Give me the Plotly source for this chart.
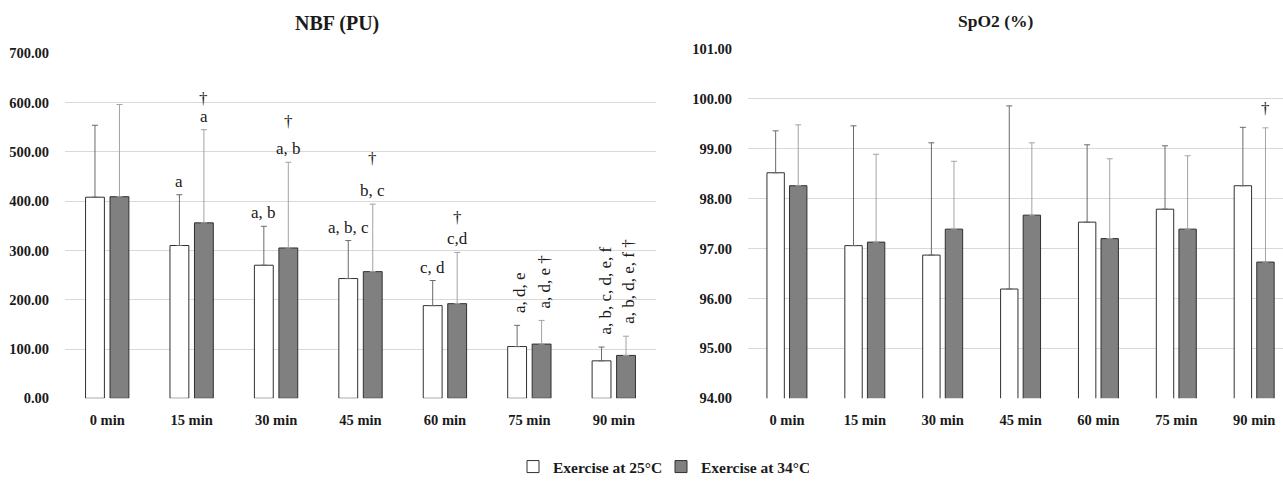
import plotly.graph_objects as go

categories = ["0 min", "15 min", "30 min", "45 min", "60 min", "75 min", "90 min"]

nbf_25 = [408, 310, 270, 243, 188, 105, 76]
nbf_25_sd = [146, 103, 79, 77, 51, 43, 28]
nbf_34 = [409, 356, 305, 257, 192, 110, 87]
nbf_34_sd = [187, 189, 174, 137, 104, 48, 39]

spo2_25 = [98.52, 97.06, 96.87, 96.19, 97.53, 97.79, 98.26]
spo2_25_sd = [0.84, 2.40, 2.25, 3.67, 1.55, 1.27, 1.17]
spo2_34 = [98.26, 97.13, 97.39, 97.67, 97.20, 97.39, 96.73]
spo2_34_sd = [1.22, 1.76, 1.36, 1.45, 1.60, 1.47, 2.69]

nbf_25_labels = ["", "a", "a, b", "a, b, c", "c, d", "a, d, e", "a, b, c, d, e, f"]
nbf_34_labels = ["", "a", "a, b", "b, c", "c,d", "a, d, e †", "a, b, d, e, f †"]
nbf_34_dagger = [False, True, True, True, True, False, False]
label_rotated = [False, False, False, False, False, True, True]
spo2_34_labels = ["", "", "", "", "", "", "†"]

# style
W, H = 1283, 482
FONT = "Liberation Serif"
GREY = "#808080"
EDGE = "#303030"
GRID = "#d9d9d9"
BARGAP = 0.42
OFF = (1 - BARGAP) / 4  # bar centre offset in category units
dagger_gap = [0, 19, 28, 33, 22, 0, 0]  # px above error-bar tops


def px_y(p):
    return (H - p) / H


def px_x(p):
    return p / W


fig = go.Figure()

common_bar = dict(marker_line_color=EDGE, marker_line_width=1)


def err(sd, color):
    return dict(type="data", symmetric=False, array=sd, arrayminus=[0] * len(sd),
                color=color, thickness=1, width=3)


fig.add_trace(go.Bar(
    x=categories, y=nbf_25, name="Exercise at 25°C", xaxis="x", yaxis="y",
    marker_color="white", **common_bar, error_y=err(nbf_25_sd, "#6a6a6a"),
    legendgroup="25"))
fig.add_trace(go.Bar(
    x=categories, y=nbf_34, name="Exercise at 34°C", xaxis="x", yaxis="y",
    marker_color=GREY, **common_bar, error_y=err(nbf_34_sd, "#a3a3a3"),
    legendgroup="34"))
fig.add_trace(go.Bar(
    x=categories, y=spo2_25, name="Exercise at 25°C", xaxis="x2", yaxis="y2",
    marker_color="white", **common_bar, showlegend=False,
    error_y=err(spo2_25_sd, "#6a6a6a"), legendgroup="25"))
fig.add_trace(go.Bar(
    x=categories, y=spo2_34, name="Exercise at 34°C", xaxis="x2", yaxis="y2",
    marker_color=GREY, **common_bar, showlegend=False,
    error_y=err(spo2_34_sd, "#a3a3a3"), legendgroup="34"))

annotations = []
lab_font = dict(family=FONT, size=17, color="#1a1a1a")


def add_label(xref, yref, i, side, top, text, rotated):
    if not text:
        return
    annotations.append(dict(
        xref=xref, yref=yref, x=i + side * OFF, y=top, text=text,
        showarrow=False, font=lab_font, borderpad=0,
        textangle=-90 if rotated else 0,
        xanchor="center", yanchor="bottom",
        xshift=3 if rotated else 0,
        yshift=11 if rotated else 3))


for i in range(7):
    t25 = nbf_25[i] + nbf_25_sd[i]
    t34 = nbf_34[i] + nbf_34_sd[i]
    add_label("x", "y", i, -1, t25, nbf_25_labels[i], label_rotated[i])
    add_label("x", "y", i, 1, t34, nbf_34_labels[i], label_rotated[i])
    if nbf_34_dagger[i]:
        annotations.append(dict(
            xref="x", yref="y", x=i + OFF, y=t34, text="†", showarrow=False,
            font=lab_font, borderpad=0, xanchor="center", yanchor="bottom",
            yshift=2 + dagger_gap[i]))
    s34 = spo2_34[i] + spo2_34_sd[i]
    if spo2_34_labels[i]:
        annotations.append(dict(
            xref="x2", yref="y2", x=i + OFF, y=s34, text=spo2_34_labels[i],
            showarrow=False, font=lab_font, borderpad=0, xanchor="center",
            yanchor="bottom", yshift=9))

annotations.append(dict(xref="paper", yref="paper", x=px_x(337), y=px_y(23),
                        text="<b>NBF (PU)</b>", showarrow=False,
                        font=dict(family=FONT, size=20, color="#1a1a1a"),
                        xanchor="center", yanchor="middle"))
annotations.append(dict(xref="paper", yref="paper", x=px_x(996), y=px_y(21),
                        text="<b>SpO2 (%)</b>", showarrow=False,
                        font=dict(family=FONT, size=17.5, color="#1a1a1a"),
                        xanchor="center", yanchor="middle"))

tick_font = dict(family=FONT, size=14.5, color="#1a1a1a", weight="bold")

xcommon = dict(type="category", showgrid=False, showline=False, zeroline=False,
               ticks="outside", ticklen=8, tickcolor="rgba(0,0,0,0)",
               tickfont=tick_font, automargin=False, fixedrange=True)
ycommon = dict(showgrid=True, gridcolor=GRID, gridwidth=1, zeroline=False,
               showline=False, ticks="outside", ticklen=12,
               tickcolor="rgba(0,0,0,0)", tickfont=tick_font,
               tickformat=".2f", automargin=False)

fig.update_layout(
    width=W, height=H,
    margin=dict(l=0, r=0, t=0, b=0, autoexpand=False),
    paper_bgcolor="white", plot_bgcolor="white",
    barmode="group", bargap=BARGAP, bargroupgap=0.23,
    xaxis=dict(domain=[px_x(65), px_x(656)], anchor="y",
               range=[-0.5, 6.5], **xcommon),
    yaxis=dict(domain=[px_y(398.3), px_y(53.3)], anchor="x",
               range=[0, 700], dtick=100, **ycommon),
    xaxis2=dict(domain=[px_x(748), 1.0], anchor="y2",
                range=[-0.5, 6.37], **xcommon),
    yaxis2=dict(domain=[px_y(398.3), px_y(49)], anchor="x2",
                range=[94, 101], dtick=1, **ycommon),
    showlegend=True,
    legend=dict(orientation="h", x=px_x(513), xanchor="left",
                y=px_y(467), yanchor="middle",
                font=dict(family=FONT, size=15.5, color="#1a1a1a",
                          weight="bold"),
                itemwidth=30, entrywidth=103, entrywidthmode="pixels",
                tracegroupgap=0, bgcolor="rgba(0,0,0,0)"),
    annotations=annotations,
)

fig.write_html("out.html", config={"displayModeBar": False},
               post_script="document.body.style.margin='0px';")
